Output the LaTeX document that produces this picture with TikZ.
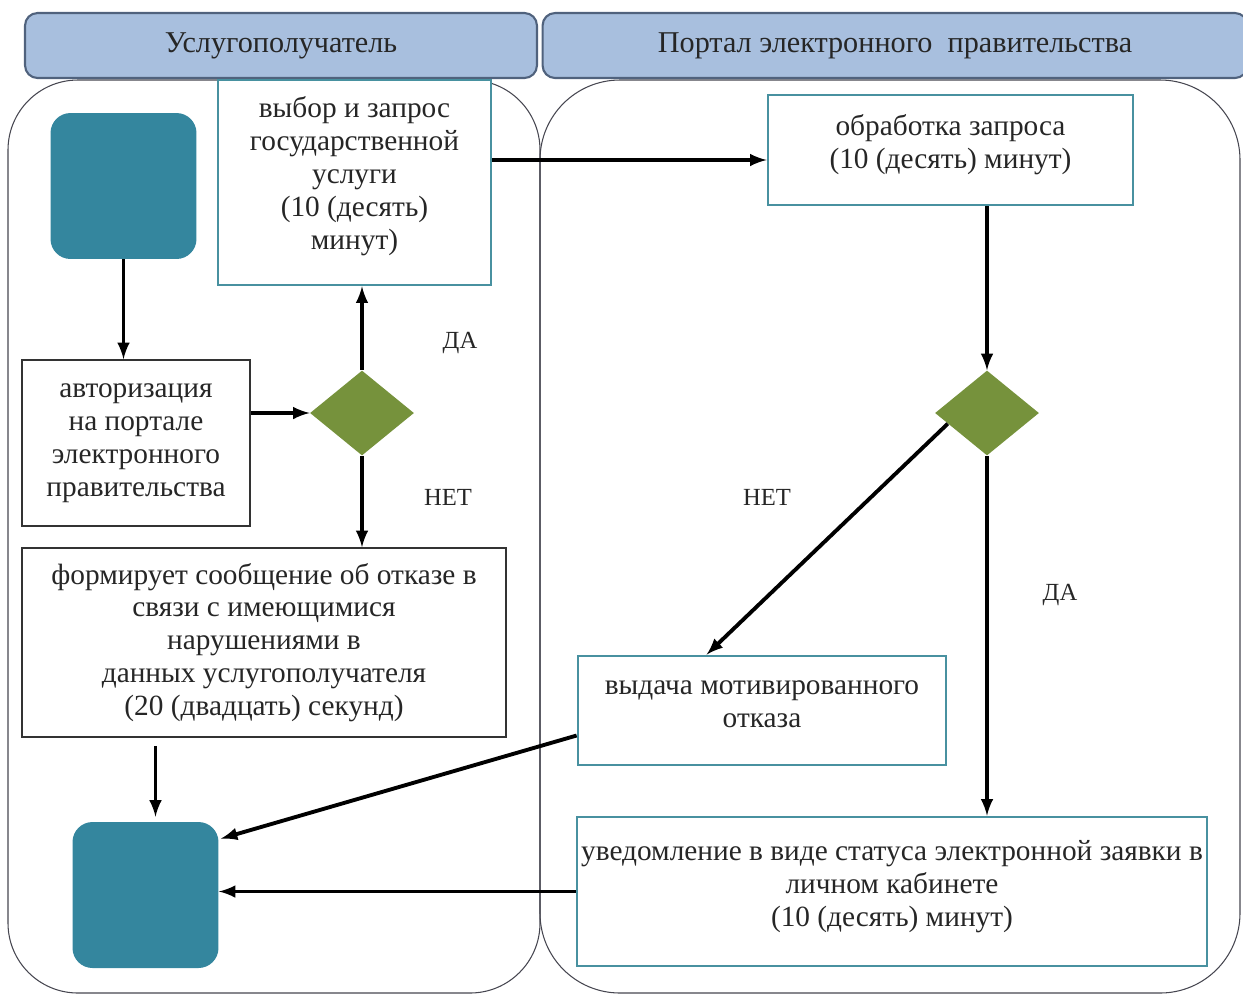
\documentclass[tikz,border=0pt]{standalone}
\usepackage{fontspec}
\setmainfont{Liberation Serif}
\usepackage{tikz}
\usetikzlibrary{%
	calc,%
	arrows,%
	shapes.geometric,%
	positioning
}
\definecolor{hdrfill}{RGB}{168,191,222}
\definecolor{hdrline}{RGB}{80,98,125}
\definecolor{termfill}{RGB}{52,134,158}
\definecolor{tealline}{RGB}{72,145,160}
\definecolor{olive}{RGB}{118,146,60}
\definecolor{laneline}{RGB}{70,70,80}

\begin{document}
\begin{tikzpicture}[>=latex, x=0.02cm, y=-0.02cm,
	txt/.style={font=\fontsize{16.7}{18.7}\selectfont, align=center, text=black!85},
	header/.style={txt, font=\fontsize{17.2}{19}\selectfont, draw=hdrline, line width=1.2pt, fill=hdrfill, rounded corners=0.25cm, minimum height=1.3cm},
	term/.style={fill=termfill, rounded corners=0.4cm, minimum width=2.92cm, minimum height=2.92cm},
	tealbox/.style={txt, draw=tealline, line width=1.6pt, inner sep=2pt},
	plainbox/.style={txt, draw=black!80, line width=1pt, inner sep=2pt},
	decision/.style={diamond, fill=olive, minimum width=2.08cm, minimum height=1.7cm, inner sep=0pt},
	answer/.style={font=\fontsize{14}{16}\selectfont, text=black!85},
	arr/.style={->, line width=2.2pt}]
				\useasboundingbox (0,0) rectangle (1243,995);
				
				% Lanes
				\draw[laneline, line width=0.6pt, rounded corners=1.4cm] (8,80) rectangle (540,993);
				\draw[laneline, line width=0.6pt, rounded corners=1.6cm] (540,80) rectangle (1240,993);
				
				% Headers
				\node[header, minimum width=10.24cm] (hdrA) at (281,45.5) {Услугополучатель};
				\node[header, minimum width=14.1cm] (hdrB) at (895,45.5) {Портал электронного\ \ правительства};
				
				% Nodes
				\node[term] (start) at (123.5,186) {};
				\node[tealbox, fill=white, minimum width=5.46cm, minimum height=4.1cm] (choose) at (354.5,182.5)
					{выбор и запрос\\государственной\\услуги\\(10 (десять)\\минут)\\[-8pt]};
				\node[tealbox, minimum width=7.3cm, minimum height=2.2cm] (process) at (950.5,150)
					{обработка запроса\\(10 (десять) минут)\\[-8.7pt]};
				\node[plainbox, minimum width=4.56cm, minimum height=3.32cm] (auth) at (136,443)
					{авторизация\\на портале\\электронного\\правительства};
				\node[decision] (dec1) at (362,413) {};
				\node[decision] (dec2) at (987,413) {};
				\node[plainbox, minimum width=9.68cm, minimum height=3.78cm] (reject) at (264,642.5)
					{формирует сообщение об отказе в\\связи с имеющимися\\нарушениями в\\данных услугополучателя\\(20 (двадцать) секунд)};
				\node[tealbox, minimum width=7.36cm, minimum height=2.18cm] (refuse) at (762,710.5)
					{выдача мотивированного\\отказа\\[-11.3pt]};
				\node[tealbox, minimum width=12.6cm, minimum height=2.98cm] (notify) at (892,891.5)
					{уведомление в виде статуса электронной заявки в\\личном кабинете\\(10 (десять) минут)\\[-9.7pt]};
				\node[term] (finish) at (145.5,895) {};
				
				% Answers
				\node[answer] (yesA) at (460,343) {ДА};
				\node[answer] (noA) at (448,497) {НЕТ};
				\node[answer] (noB) at (767,497) {НЕТ};
				\node[answer] (yesB) at (1060,595) {ДА};
				
				% Arrows
				\coordinate (procin) at ([yshift=-0.2cm]process.west);
				\draw[arr] (start.south) -- (start.south |- auth.north);
				\draw[arr] (auth.east |- dec1.west) -- (dec1.west);
				\draw[arr] (dec1.north) -- (dec1.north |- choose.south);
				\draw[arr] (dec1.south) -- (dec1.south |- reject.north);
				\draw[arr] (choose.east |- procin) -- (procin);
				\draw[arr] (process.south -| dec2.north) -- (dec2.north);
				\draw[arr] ($(dec2.west)!0.25!(dec2.south)$) -- ($(refuse.north west)+(130,0)$);
				\draw[arr] (dec2.south) -- (dec2.south |- notify.north);
				\draw[arr] ($(refuse.west)+(0,25)$) -- ($(finish.north east)+(2,17)$);
				\draw[arr] (notify.west) -- (notify.west -| finish.east);
				\draw[arr, shorten <=0.16cm, shorten >=0.1cm] ($(reject.south -| finish.north)+(10,0)$) -- ($(finish.north)+(10,0)$);
			\end{tikzpicture}
\end{document}
